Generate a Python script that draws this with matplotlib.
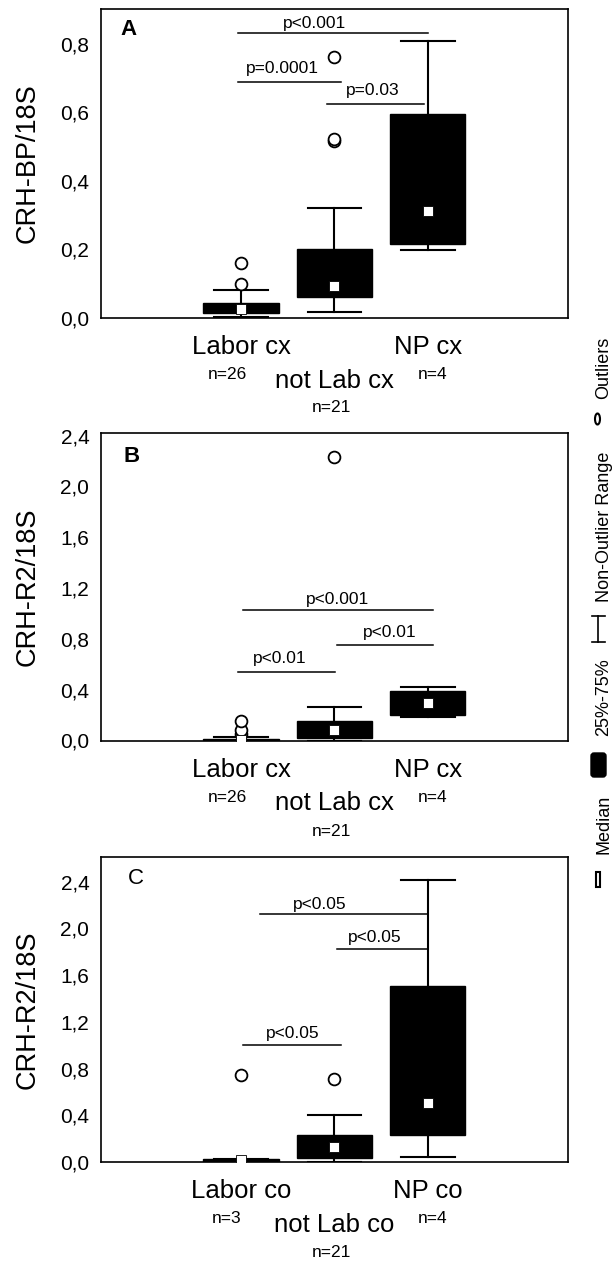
import matplotlib
matplotlib.use("Agg")
import matplotlib.pyplot as plt
from matplotlib.patches import Ellipse, Rectangle, FancyBboxPatch

plt.rcParams['font.family'] = ['Liberation Sans', 'DejaVu Sans']

positions = [1, 2, 3]

# panel A  (CRH-BP, cervix)
a_names = ['Labor cx', 'not Lab cx', 'NP cx']
a_counts = ['n=26', 'n=21', 'n=4']
a_med = [0.025, 0.092, 0.31]
a_q1 = [0.014, 0.060, 0.214]
a_q3 = [0.043, 0.201, 0.595]
a_lo = [0.002, 0.016, 0.196]
a_hi = [0.079, 0.319, 0.807]
a_out = [[0.097, 0.16], [0.515, 0.522, 0.763], []]
a_pspan = [(0.97, 3.0), (0.97, 2.07), (1.92, 2.96)]
a_py = [0.832, 0.688, 0.624]
a_ptxt = ['p<0.001', 'p=0.0001', 'p=0.03']
a_px = [1.79, 1.44, 2.41]

# panel B  (CRH-R2, cervix)
b_names = ['Labor cx', 'not Lab cx', 'NP cx']
b_counts = ['n=26', 'n=21', 'n=4']
b_med = [0.006, 0.083, 0.293]
b_q1 = [0.002, 0.017, 0.20]
b_q3 = [0.014, 0.156, 0.39]
b_lo = [0.0, 0.0, 0.187]
b_hi = [0.03, 0.266, 0.424]
b_out = [[0.05, 0.085, 0.155], [2.23], []]
b_pspan = [(1.02, 3.06), (2.03, 3.06), (0.97, 2.01)]
b_py = [1.028, 0.752, 0.542]
b_ptxt = ['p<0.001', 'p<0.01', 'p<0.01']
b_px = [2.03, 2.59, 1.42]

# panel C  (CRH-R2, chorion)
c_names = ['Labor co', 'not Lab co', 'NP co']
c_counts = ['n=3', 'n=21', 'n=4']
c_med = [0.02, 0.131, 0.508]
c_q1 = [0.003, 0.032, 0.231]
c_q3 = [0.023, 0.231, 1.508]
c_lo = [0.0, 0.0, 0.046]
c_hi = [0.025, 0.403, 2.416]
c_out = [[0.745], [0.709], []]
c_pspan = [(1.2, 3.0), (2.03, 3.0), (1.02, 2.07)]
c_py = [2.12, 1.82, 1.0]
c_ptxt = ['p<0.05', 'p<0.05', 'p<0.05']
c_px = [1.84, 2.43, 1.55]

ticks_a = [0.0, 0.2, 0.4, 0.6, 0.8]
ticklab_a = ['0,0', '0,2', '0,4', '0,6', '0,8']
ticks_bc = [0.0, 0.4, 0.8, 1.2, 1.6, 2.0, 2.4]
ticklab_bc = ['0,0', '0,4', '0,8', '1,2', '1,6', '2,0', '2,4']

fig = plt.figure(figsize=(6.15, 12.63), dpi=100)


def panel(rect, ylab, letter, bold, ymax, ticks, ticklabs, names, counts,
          med, q1, q3, lo, hi, out, pspan, py, ptxt, px, poff, letpos):
    ax = fig.add_axes(rect)
    stats = []
    for i in range(3):
        stats.append(dict(med=med[i], q1=q1[i], q3=q3[i], whislo=lo[i],
                          whishi=hi[i], fliers=out[i]))
    ax.bxp(stats, positions=positions, widths=0.81, capwidths=0.575,
           patch_artist=True, manage_ticks=False,
           boxprops=dict(facecolor='black', edgecolor='black', linewidth=1),
           whiskerprops=dict(color='black', linewidth=1.5),
           capprops=dict(color='black', linewidth=1.5),
           medianprops=dict(linestyle='none'),
           flierprops=dict(marker='o', markersize=8.5, markerfacecolor='white',
                           markeredgecolor='black', markeredgewidth=1.3))
    ax.plot(positions, med, 's', ms=7.8, mfc='white', mec='black', mew=0.6, zorder=4)

    for (x0, x1), y, t, tx, off in zip(pspan, py, ptxt, px, poff):
        ax.plot([x0, x1], [y, y], color='black', lw=1.1)
        ax.annotate(t, xy=(tx, y), xytext=(0, off), textcoords='offset points',
                    ha='center', va='baseline', fontsize=12.5)

    ax.set_xlim(-0.5, 4.5)
    ax.set_ylim(0, ymax)
    ax.set_xticks([])
    ax.set_yticks(ticks)
    ax.set_yticklabels(ticklabs)
    ax.tick_params(axis='y', length=0, pad=8.4, labelsize=15)
    for s in ax.spines.values():
        s.set_linewidth(1.2)

    ax.text(-0.157, 0.5, ylab, transform=ax.transAxes, rotation=90,
            ha='center', va='center', fontsize=19.5)
    ax.text(letpos[0], letpos[1], letter, transform=ax.transAxes, ha='center',
            va='center', fontsize=16, fontweight='bold' if bold else 'normal')

    # group names and counts under the axis
    name_off = [-26, -50.4, -26]
    n_off = [-44, -68.4, -44]
    n_x = [0.85, 1.97, 3.05]
    for i in range(3):
        ax.annotate(names[i], xy=(positions[i], 0), xycoords=('data', 'axes fraction'),
                    xytext=(0, name_off[i]), textcoords='offset points',
                    ha='center', va='baseline', fontsize=18.5)
        ax.annotate(counts[i], xy=(n_x[i], 0), xycoords=('data', 'axes fraction'),
                    xytext=(0, n_off[i]), textcoords='offset points',
                    ha='center', va='baseline', fontsize=12.5)
    return ax


panel([101 / 615, 1 - 317.5 / 1263, 466.7 / 615, 308.5 / 1263], 'CRH-BP/18S', 'A', True,
      0.902, ticks_a, ticklab_a, a_names, a_counts, a_med, a_q1, a_q3, a_lo, a_hi, a_out,
      a_pspan, a_py, a_ptxt, a_px, [3.6, 6.9, 6.2], (0.058, 0.935))
panel([101 / 615, 1 - 740.5 / 1263, 466.7 / 615, 307.5 / 1263], 'CRH-R2/18S', 'B', True,
      2.42, ticks_bc, ticklab_bc, b_names, b_counts, b_med, b_q1, b_q3, b_lo, b_hi, b_out,
      b_pspan, b_py, b_ptxt, b_px, [4.3, 5.5, 6.0], (0.066, 0.922))
panel([101 / 615, 1 - 1162 / 1263, 466.7 / 615, 305 / 1263], 'CRH-R2/18S', 'C', False,
      2.61, ticks_bc, ticklab_bc, c_names, c_counts, c_med, c_q1, c_q3, c_lo, c_hi, c_out,
      c_pspan, c_py, c_ptxt, c_px, [3.6, 5.5, 5.0], (0.075, 0.928))

# legend strip on the right, pixel units
lg = fig.add_axes([580 / 615, 1 - 900 / 1263, 35 / 615, 570 / 1263])
lg.set_xlim(580, 615)
lg.set_ylim(900, 330)
lg.axis('off')
for txt, yc in [('Outliers', 368), ('Non-Outlier Range', 527), ('25%-75%', 697), ('Median', 824)]:
    lg.text(604, yc, txt, rotation=90, ha='center', va='center', fontsize=13)
lg.add_patch(Ellipse((597.5, 419), 5, 11, facecolor='white', edgecolor='black', lw=1.5))
lg.plot([598, 598], [616, 642], color='black', lw=1.2)
lg.plot([592, 605], [616, 616], color='black', lw=1.2)
lg.plot([592, 605], [642, 642], color='black', lw=1.2)
lg.add_patch(FancyBboxPatch((591, 753), 15, 24, boxstyle='round,pad=0,rounding_size=3',
                            facecolor='black', edgecolor='black'))
lg.add_patch(Rectangle((595.5, 872), 4, 15, facecolor='white', edgecolor='black', lw=1.5))

fig.savefig('out.png', dpi=100)
